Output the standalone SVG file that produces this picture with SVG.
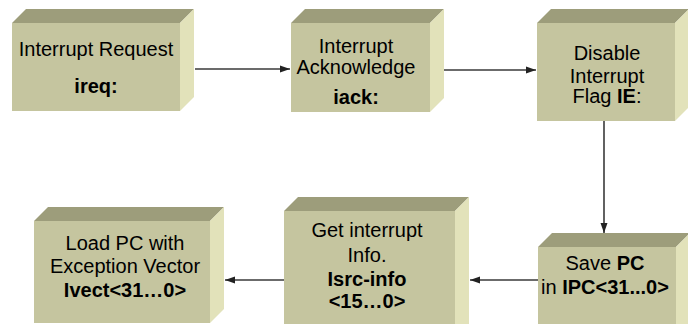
<svg xmlns="http://www.w3.org/2000/svg" width="688" height="324" viewBox="0 0 688 324">
<defs>
<style>
.front{fill:#C5C59F}
.top{fill:#9D9D7B}
.side{fill:#E2E2BA}
text{font-family:"Liberation Sans",Arial,sans-serif;font-size:20px;fill:#000;text-anchor:middle}
.b{font-weight:bold}
.conn{stroke:#3a3a3a;stroke-width:1.6;fill:none;marker-end:url(#ah)}
</style>
<marker id="ah" markerUnits="userSpaceOnUse" markerWidth="10" markerHeight="8" refX="10" refY="4" orient="auto">
<path d="M0,0.5 L10,4 L0,7.5 z" fill="#222"/>
</marker>
</defs>
<rect width="688" height="324" fill="#fff"/>
<g id="connectors">
<line class="conn" x1="195" y1="69" x2="290" y2="69"/>
<line class="conn" x1="444" y1="70" x2="536" y2="70"/>
<line class="conn" x1="604" y1="121" x2="604" y2="233"/>
<line class="conn" x1="538" y1="280" x2="470" y2="280"/>
<line class="conn" x1="284" y1="280" x2="225" y2="280"/>
</g>
<g id="n1">
<rect class="front" x="12" y="23" width="168" height="88"/>
<polygon class="top" points="12,23 26,9 194,9 180,23"/>
<polygon class="side" points="180,23 194,9 194,97 180,111"/>
<text x="96" y="56">Interrupt Request</text>
<text x="96" y="93" class="b">ireq:</text>
</g>
<g id="n2">
<rect class="front" x="291" y="23" width="139" height="89"/>
<polygon class="top" points="291,23 305,9 444,9 430,23"/>
<polygon class="side" points="430,23 444,9 444,98 430,112"/>
<text x="356" y="53">Interrupt</text>
<text x="356" y="74">Acknowledge</text>
<text x="356" y="104" class="b">iack:</text>
</g>
<g id="n3">
<rect class="front" x="537" y="23" width="138" height="98"/>
<polygon class="top" points="537,23 551,9 689,9 675,23"/>
<polygon class="side" points="675,23 689,9 689,107 675,121"/>
<text x="607" y="60">Disable</text>
<text x="607" y="83">Interrupt</text>
<text x="607" y="103">Flag <tspan class="b">IE</tspan>:</text>
</g>
<g id="n6">
<rect class="front" x="538" y="247" width="138" height="90"/>
<polygon class="top" points="538,247 552,233 690,233 676,247"/>
<polygon class="side" points="676,247 690,233 690,330 676,340"/>
<text x="605" y="270">Save <tspan class="b">PC</tspan></text>
<text x="605" y="294">in <tspan class="b">IPC&lt;31...0&gt;</tspan></text>
</g>
<g id="n5">
<rect class="front" x="284" y="211" width="171" height="120"/>
<polygon class="top" points="284,211 298,197 469,197 455,211"/>
<polygon class="side" points="455,211 469,197 469,330 455,330"/>
<text x="367" y="237">Get interrupt</text>
<text x="367" y="262">Info.</text>
<text x="367" y="286" class="b">Isrc-info</text>
<text x="367" y="308" class="b">&lt;15…0&gt;</text>
</g>
<g id="n4">
<rect class="front" x="34" y="221" width="176" height="102"/>
<polygon class="top" points="34,221 48,207 224,207 210,221"/>
<polygon class="side" points="210,221 224,207 224,309 210,323"/>
<text x="125" y="250">Load PC with</text>
<text x="125" y="273">Exception Vector</text>
<text x="125" y="297" class="b">Ivect&lt;31…0&gt;</text>
</g>
</svg>
